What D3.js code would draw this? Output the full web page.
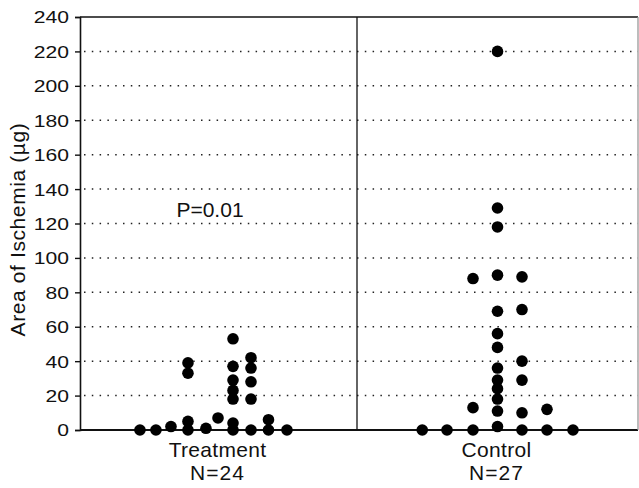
<!DOCTYPE html>
<html><head><meta charset="utf-8">
<script src="https://cdn.jsdelivr.net/npm/d3@7"></script>
<style>body{margin:0;background:#fff}text{font-family:"Liberation Sans",Arial,Helvetica,sans-serif;fill:#111}</style></head>
<body><svg id="c" width="639" height="488"></svg>
<script>
// ---- data ----
const groups = ["Treatment", "Control"];
const groupN = ["N=24", "N=27"];
const yTicks = [0, 20, 40, 60, 80, 100, 120, 140, 160, 180, 200, 220, 240];
const yLabel = "Area of Ischemia (\u00b5g)";
const pText = "P=0.01";
const pValueLevel = 124;

const treatmentSlots  = [-4.7, -3.73, -2.82, -1.79, -1.79, -1.79, -1.79, -0.7, 0.03,
                         0.94, 0.94, 0.94, 0.94, 0.94, 0.94, 0.94,
                         2.03, 2.03, 2.03, 2.03, 2.03, 3.09, 3.09, 4.21];
const treatmentValues = [0, 0, 2, 0, 5, 33, 39, 1, 7,
                         0, 4, 18, 23, 29, 37, 53,
                         0, 18, 28, 36, 42, 0, 6, 0];

const controlSlots  = [-2.97, -1.98, -0.94, -0.94, -0.94,
                       0.04, 0.04, 0.04, 0.04, 0.04, 0.04, 0.04, 0.04, 0.04, 0.04, 0.04, 0.04, 0.04,
                       1.02, 1.02, 1.02, 1.02, 1.02, 1.02, 2.02, 2.02, 3.06];
const controlValues = [0, 0, 0, 13, 88,
                       2, 11, 18, 24, 29, 36, 48, 56, 69, 90, 118, 129, 220,
                       0, 10, 29, 40, 70, 89, 0, 12, 0];

// ---- layout ----
const svg = d3.select("#c");
const pL = 80, pR = 638, pT = 17, pB = 430;
const y = d3.scaleLinear().domain([0, 240]).range([pB, pT]);
const x = d3.scaleBand().domain(groups).range([78, 636]);
const slotScale = {
  Treatment: d3.scaleLinear().domain([0, 1]).range([0, 16.5]),
  Control: d3.scaleLinear().domain([0, 1]).range([0, 25])
};

// grid
svg.append("g").selectAll("line").data(yTicks.filter(d => d > 0 && d < 240)).join("line")
  .attr("x1", pL + 4).attr("x2", pR)
  .attr("y1", d => y(d)).attr("y2", d => y(d))
  .attr("stroke", "#222").attr("stroke-width", 1.5).attr("stroke-dasharray", "1.5,6.3");

// frame
const frame = svg.append("g").attr("stroke", "#111").attr("stroke-width", 1.3);
frame.append("line").attr("x1", pL).attr("x2", pR).attr("y1", pT).attr("y2", pT);
frame.append("line").attr("x1", pL).attr("x2", pR).attr("y1", pB).attr("y2", pB).attr("stroke-width", 1.8);
frame.append("line").attr("x1", pR).attr("x2", pR).attr("y1", pT).attr("y2", pB).attr("stroke", "#999");
frame.append("line").attr("x1", x("Control")).attr("x2", x("Control")).attr("y1", pT).attr("y2", pB);

// y axis
const ax = svg.append("g").attr("transform", `translate(${pL},0)`)
  .call(d3.axisLeft(y).tickValues(yTicks).tickSize(5).tickPadding(0));
ax.select(".domain").attr("stroke", "#111").attr("stroke-width", 1.6);
ax.selectAll(".tick line").attr("stroke", "#111").attr("stroke-width", 1.4);
ax.selectAll(".tick text")
  .attr("x", null).attr("dy", "0.36em")
  .attr("transform", "translate(-11,0) scale(1.28,1)")
  .style("font-size", "16.5px")
  .attr("fill", "#111").attr("font-family", "Liberation Sans, Arial, sans-serif");

svg.append("text")
  .attr("transform", `translate(25,${(pT + pB) / 2 + 6}) rotate(-90)`)
  .attr("text-anchor", "middle").style("font-size", "21px").style("letter-spacing", "0.6px")
  .text(yLabel);

// points
function drawGroup(name, slots, values) {
  const cx = x(name) + x.bandwidth() / 2;
  svg.append("g").selectAll("circle").data(values.map((v, i) => ({v, s: slots[i]}))).join("circle")
    .attr("cx", d => cx + slotScale[name](d.s))
    .attr("cy", d => y(d.v))
    .attr("r", 5.8).attr("fill", "#000");
}
drawGroup("Treatment", treatmentSlots, treatmentValues);
drawGroup("Control", controlSlots, controlValues);

// group labels
groups.forEach((g, i) => {
  const cx = x(g) + x.bandwidth() / 2;
  svg.append("text").attr("x", cx).attr("y", 457).attr("text-anchor", "middle")
    .style("font-size", "21px").style("letter-spacing", "0.3px").text(g);
  svg.append("text").attr("x", cx).attr("y", 480).attr("text-anchor", "middle")
    .style("font-size", "21px").style("letter-spacing", "1px").text(groupN[i]);
});

svg.append("text").attr("x", 210).attr("y", y(pValueLevel)).attr("text-anchor", "middle")
  .style("font-size", "21px").text(pText);
</script></body></html>
